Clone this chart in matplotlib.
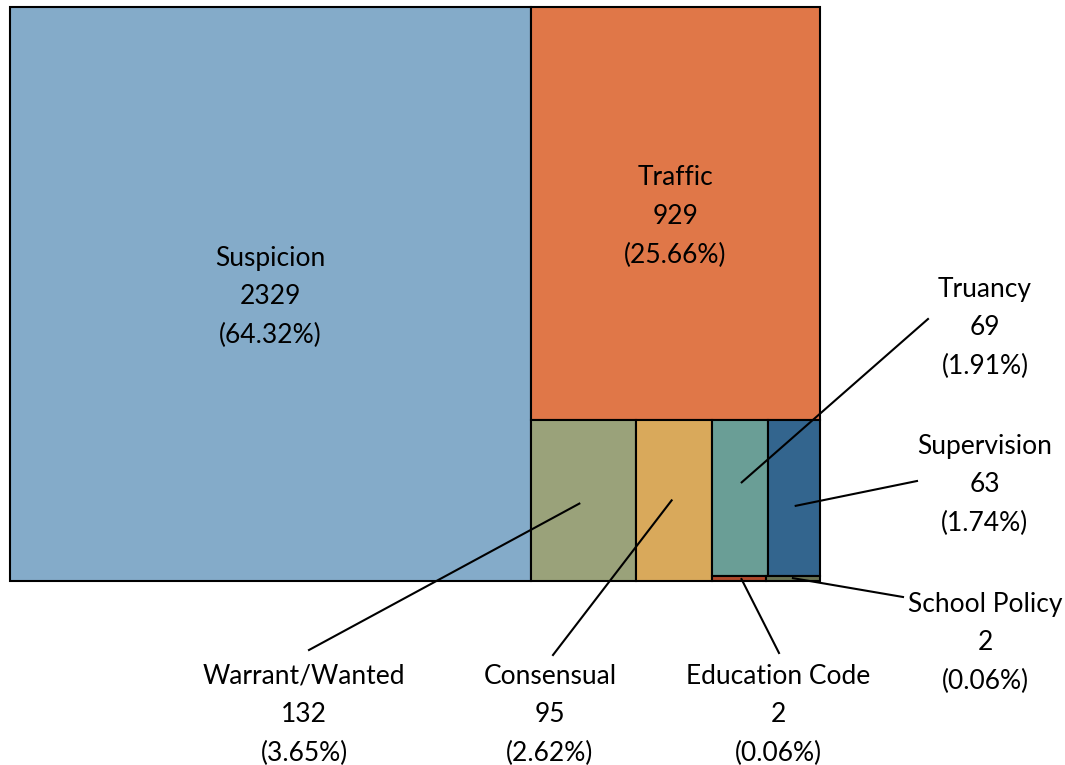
import matplotlib
matplotlib.use('Agg')
import matplotlib.pyplot as plt
from matplotlib.patches import Rectangle

plt.rcParams['font.family'] = ['Lato', 'DejaVu Sans']

# Data
labels = ['Suspicion', 'Traffic', 'Warrant/Wanted', 'Consensual',
          'Truancy', 'Supervision', 'Education Code', 'School Policy']
counts = [2329, 929, 132, 95, 69, 63, 2, 2]
colors = ['#84abc9', '#e07748', '#9aa27a', '#d9a95b',
          '#6a9e96', '#33658e', '#b04a2b', '#6b7453']

total = sum(counts)

# nested slicing structure (indices into the lists above), 'h' = side by side, 'v' = stacked
layout = ('h', [0, ('v', [1, ('h', [2, 3, ('v', [('h', [4, 5]), ('h', [6, 7])])])])])


def node_sum(node):
    if isinstance(node, int):
        return counts[node]
    return sum(node_sum(c) for c in node[1])


def slice_rect(node, x, y, w, h, out):
    if isinstance(node, int):
        out[node] = (x, y, w, h)
        return
    direction, children = node
    s = node_sum(node)
    pos = 0.0
    for c in children:
        frac = node_sum(c) / s
        if direction == 'h':
            slice_rect(c, x + pos * w, y, w * frac, h, out)
        else:
            slice_rect(c, x, y + pos * h, w, h * frac, out)
        pos += frac


rects = {}
# treemap area in figure pixels: left, top, width, height
slice_rect(layout, 10, 7, 810, 574, rects)

fig = plt.figure(figsize=(10.65, 7.65), dpi=100)
ax = fig.add_axes([0, 0, 1, 1])
ax.set_xlim(0, 1065)
ax.set_ylim(765, 0)
ax.axis('off')

for i, lab in enumerate(labels):
    x, y, w, h = rects[i]
    ax.add_patch(Rectangle((x, y), w, h, facecolor=colors[i],
                           edgecolor='black', linewidth=1.5))

fs = 19
ls = 1.68
dy = 3  # small nudge so the text block sits like the original


def label_text(i):
    return '%s\n%d\n(%.2f%%)' % (labels[i], counts[i], counts[i] / total * 100)


# labels inside the two big boxes
for i in [0, 1]:
    x, y, w, h = rects[i]
    ax.text(x + w / 2, y + h / 2 + dy, label_text(i), ha='center', va='center',
            fontsize=fs, linespacing=ls, color='black')

# outside labels: (index, anchor fraction in box, line end, text centre)
callouts = [
    (2, (0.46, 0.52), (309, 650), (304, 712)),
    (3, (0.47, 0.50), (553, 655), (550, 712)),
    (4, (0.53, 0.40), (928, 319), (985, 325)),
    (5, (0.53, 0.55), (917, 481), (985, 482)),
    (6, (0.55, 0.60), (779, 653), (778, 712)),
    (7, (0.50, 0.40), (903, 597), (985, 640)),
]

for i, (fx, fy), end, centre in callouts:
    x, y, w, h = rects[i]
    ax.plot([x + fx * w, end[0]], [y + fy * h, end[1]], color='black', lw=1.5)
    ax.text(centre[0], centre[1] + dy, label_text(i), ha='center', va='center',
            fontsize=fs, linespacing=ls, color='black')

fig.savefig('out.png', dpi=100)
